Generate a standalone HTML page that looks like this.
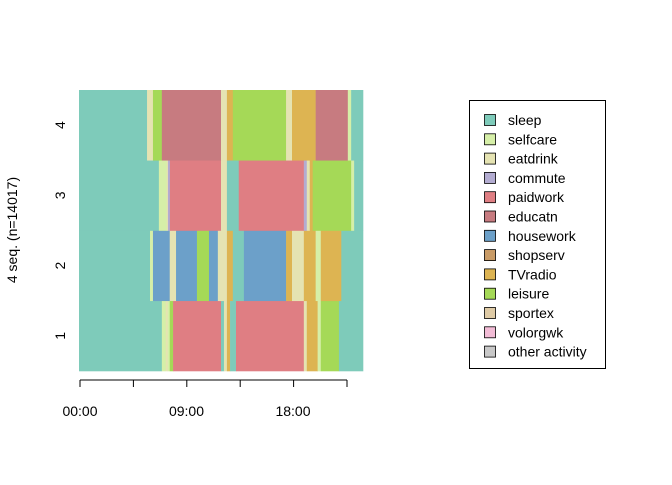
<!DOCTYPE html>
<html><head><meta charset="utf-8"><style>
body{margin:0;background:#fff;font-family:"Liberation Sans",sans-serif;}
</style></head><body>
<svg id="chart" width="672" height="480" xmlns="http://www.w3.org/2000/svg" font-family="Liberation Sans, sans-serif" font-size="14"></svg>
<script>
const states = ["sleep","selfcare","eatdrink","commute","paidwork","educatn","housework","shopserv","TVradio","leisure","sportex","volorgwk","other activity"];
const stateColors = ["#7ecbba","#d6efa8","#e5e3b2","#b3acd1","#df7e83","#c77b80","#6ca0c9","#c99b66","#ddb452","#a5d957","#dfcba6","#f2bcd6","#c8c8c8"];
// sequences: [state index, start slot (10-min units)]
const seq1States = [0,1,2,1,9,4,0,2,8,0,4,2,8,1,9,0];
const seq1Starts = [0,42,44,45,46,47.7,72,73.5,75,76.6,79.6,114,115.5,121,122.6,131.8];
const seq2States = [0,1,6,2,6,9,6,2,8,0,6,8,2,8,1,8,0];
const seq2Starts = [0,36,37.5,46,49.2,59.8,65.9,70.4,75,78,83.6,105,108,114,120,122.6,133];
const seq3States = [0,1,2,3,4,2,0,4,3,2,8,9,1,0];
const seq3Starts = [0,40.5,44.5,45.1,46.1,72,75,81,114,115.5,117,118.5,138,139.5];
const seq4States = [0,2,9,5,2,8,9,2,8,5,1,0];
const seq4Starts = [0,34.5,37.5,42,72,75,78,105,108,120,136.3,138];
const rowLabels = ["1","2","3","4"];
const xTickLabels = ["00:00","09:00","18:00"];
const xTickSlots = [0,54,108];
const totalSlots = 144;

const svg = document.getElementById('chart');
const NS = "http://www.w3.org/2000/svg";
const L=79, R=363, T=90, B=371;
const xs = s => L + s*(R-L)/totalSlots;
const rowH = (B-T)/4;
const ys = i => B - (i+1)*rowH;
function mk(tag, attrs){const e=document.createElementNS(NS,tag);for(const k in attrs)e.setAttribute(k,attrs[k]);svg.appendChild(e);return e;}

const allStates=[seq1States,seq2States,seq3States,seq4States];
const allStarts=[seq1Starts,seq2Starts,seq3Starts,seq4Starts];
allStates.forEach((st,i)=>{
  const starts=allStarts[i];
  st.forEach((s,j)=>{
    const a=starts[j], b=j+1<starts.length?starts[j+1]:totalSlots;
    const r=mk('rect',{x:xs(a),y:ys(i),width:xs(b)-xs(a)+0.3,height:rowH+0.3,fill:stateColors[s]});
    
    
  });
  const t=mk('text',{x:0,y:0,transform:`translate(65,${ys(i)+rowH/2}) rotate(-90)`,'text-anchor':'middle'});
  t.textContent=rowLabels[i];
  
  
});
// x axis
const ax=mk('line',{x1:80,y1:380,x2:347,y2:380,stroke:'#000'});


for(let k=0;k<=5;k++){
  const tx=80+k*53.4;
  const tk=mk('line',{x1:tx,y1:380,x2:tx,y2:387,stroke:'#000'});
  
  
}
xTickLabels.forEach((lab,k)=>{
  const t=mk('text',{x:xs(xTickSlots[k])+1,y:416,'text-anchor':'middle'});
  t.textContent=lab;
  
  
});
const yt=mk('text',{x:0,y:0,transform:'translate(17,230) rotate(-90)','text-anchor':'middle'});
yt.textContent='4 seq. (n=14017)';


// legend
const lb=mk('rect',{x:469.5,y:100.5,width:136,height:268,fill:'none',stroke:'#000'});


states.forEach((s,k)=>{
  const y=120+k*19.3;
  const r=mk('rect',{x:484.5,y:y-5.5,width:11,height:11,fill:stateColors[k],stroke:'#000','stroke-width':0.8});
  
  
  const t=mk('text',{x:508,y:y+5});
  t.textContent=s;
  
  
});
</script>
</body></html>
